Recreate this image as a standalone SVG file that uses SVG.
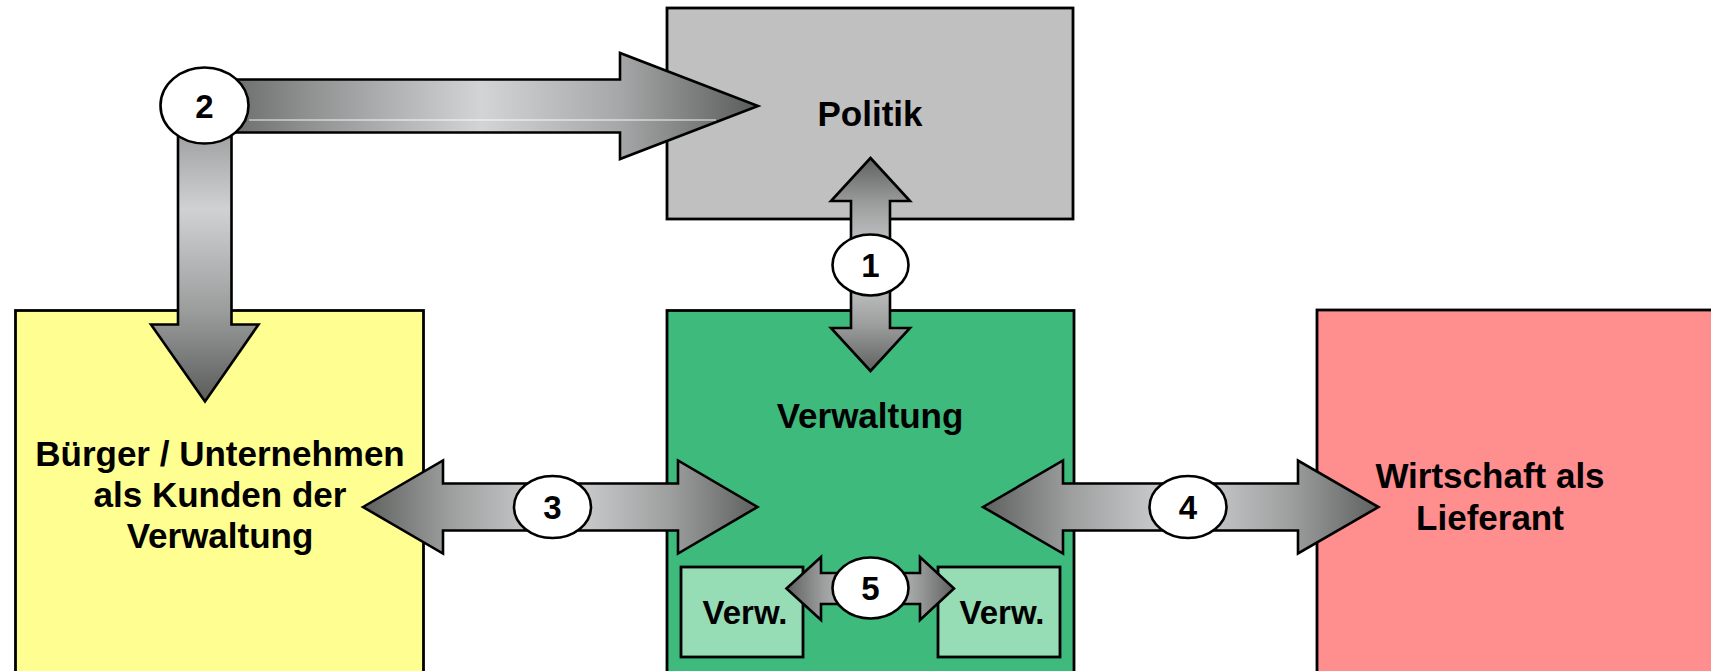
<svg xmlns="http://www.w3.org/2000/svg" width="1711" height="671" viewBox="0 0 1711 671">
<defs>
<linearGradient id="gH" x1="0" y1="0" x2="1" y2="0">
<stop offset="0" stop-color="#5f615f"/>
<stop offset="0.22" stop-color="#9d9f9f"/>
<stop offset="0.5" stop-color="#d3d4d6"/>
<stop offset="0.78" stop-color="#9d9f9f"/>
<stop offset="1" stop-color="#5f615f"/>
</linearGradient>
<linearGradient id="gV" x1="0" y1="0" x2="0" y2="1">
<stop offset="0" stop-color="#5f615f"/>
<stop offset="0.22" stop-color="#9d9f9f"/>
<stop offset="0.5" stop-color="#d3d4d6"/>
<stop offset="0.78" stop-color="#9d9f9f"/>
<stop offset="1" stop-color="#5f615f"/>
</linearGradient>
<linearGradient id="g2H" x1="0" y1="0" x2="1" y2="0">
<stop offset="0" stop-color="#5f615f"/>
<stop offset="0.18" stop-color="#8e9090"/>
<stop offset="0.5" stop-color="#d3d4d6"/>
<stop offset="0.75" stop-color="#a5a7a8"/>
<stop offset="1" stop-color="#5a5c5a"/>
</linearGradient>
<linearGradient id="g2V" x1="0" y1="0" x2="0" y2="1">
<stop offset="0" stop-color="#8e9090"/>
<stop offset="0.35" stop-color="#d0d1d3"/>
<stop offset="0.7" stop-color="#9a9c9c"/>
<stop offset="1" stop-color="#5a5c5a"/>
</linearGradient>
</defs>
<style>
.box{stroke:#000;stroke-width:2.8}
.arrow{stroke:#000;stroke-width:2.6;stroke-linejoin:miter}
.badge{fill:#fff;stroke:#000;stroke-width:2.6}
.lbl{font-family:"Liberation Sans",Arial,sans-serif;font-weight:bold;font-size:35px;fill:#000;text-anchor:middle}
.small{font-size:33px}
.num{font-family:"Liberation Sans",Arial,sans-serif;font-weight:bold;font-size:33px;fill:#000;text-anchor:middle}
</style>
<rect width="1711" height="671" fill="#fff"/>
<g id="politik">
<rect class="box" x="667" y="8" width="406" height="211" fill="#c0c0c0"/>
<text class="lbl" x="870" y="126">Politik</text>
</g>
<g id="buerger">
<rect class="box" x="15.5" y="310.5" width="408" height="380" fill="#ffff91"/>
<text class="lbl" x="220" y="466">Bürger / Unternehmen</text>
<text class="lbl" x="220" y="507">als Kunden der</text>
<text class="lbl" x="220" y="548">Verwaltung</text>
</g>
<g id="verwaltung">
<rect class="box" x="667" y="310.5" width="407" height="380" fill="#3ebb7c"/>
<text class="lbl" x="870" y="428">Verwaltung</text>
</g>
<g id="verw-left">
<rect class="box" x="681" y="567" width="122" height="90" fill="#96dcb5"/>
<text class="lbl small" x="745" y="624">Verw.</text>
</g>
<g id="verw-right">
<rect class="box" x="938" y="567" width="122" height="90" fill="#96dcb5"/>
<text class="lbl small" x="1002" y="624">Verw.</text>
</g>
<g id="wirtschaft">
<rect class="box" x="1317" y="310" width="420" height="380" fill="#ff8e8e"/>
<text class="lbl" x="1490" y="488">Wirtschaft als</text>
<text class="lbl" x="1490" y="530">Lieferant</text>
</g>
<g id="connectors">
<polygon class="arrow" fill="url(#g2V)" points="178,106 231.5,106 231.5,324.5 258.5,324.5 205,401.5 151,324.5 178,324.5"/>
<polygon class="arrow" fill="url(#g2H)" points="205,79.5 620,79.5 620,53 758,106 620,159 620,132.5 205,132.5"/>
<line x1="249" y1="120" x2="716" y2="120" stroke="#fff" stroke-width="1.2" opacity="0.9"/>
<ellipse class="badge" cx="204.5" cy="105.5" rx="44" ry="38"/>
<text class="num" x="204.5" y="118">2</text>
<polygon class="arrow" fill="url(#gV)" points="870.5,158 910,201 890,201 890,328 910,328 870.5,371 831,328 851,328 851,201 831,201"/>
<ellipse class="badge" cx="870.5" cy="265" rx="38" ry="30.5"/>
<text class="num" x="870.5" y="277">1</text>
<polygon class="arrow" fill="url(#gH)" points="363,507 443,460.5 443,483.5 678,483.5 678,460.5 757.5,507 678,553.5 678,530.5 443,530.5 443,553.5"/>
<ellipse class="badge" cx="552.5" cy="507" rx="38.5" ry="31"/>
<text class="num" x="552.5" y="519">3</text>
<polygon class="arrow" fill="url(#gH)" points="983,507 1063,460.5 1063,483.5 1298,483.5 1298,460.5 1378.5,507 1298,553.5 1298,530.5 1063,530.5 1063,553.5"/>
<ellipse class="badge" cx="1188" cy="507" rx="38.5" ry="31"/>
<text class="num" x="1188" y="519">4</text>
<polygon class="arrow" fill="url(#gH)" points="786.5,588.5 821,557 821,573 920,573 920,557 954,588.5 920,620 920,604 821,604 821,620"/>
<ellipse class="badge" cx="870.5" cy="588" rx="38" ry="30.5"/>
<text class="num" x="870.5" y="600">5</text>
</g>
</svg>
